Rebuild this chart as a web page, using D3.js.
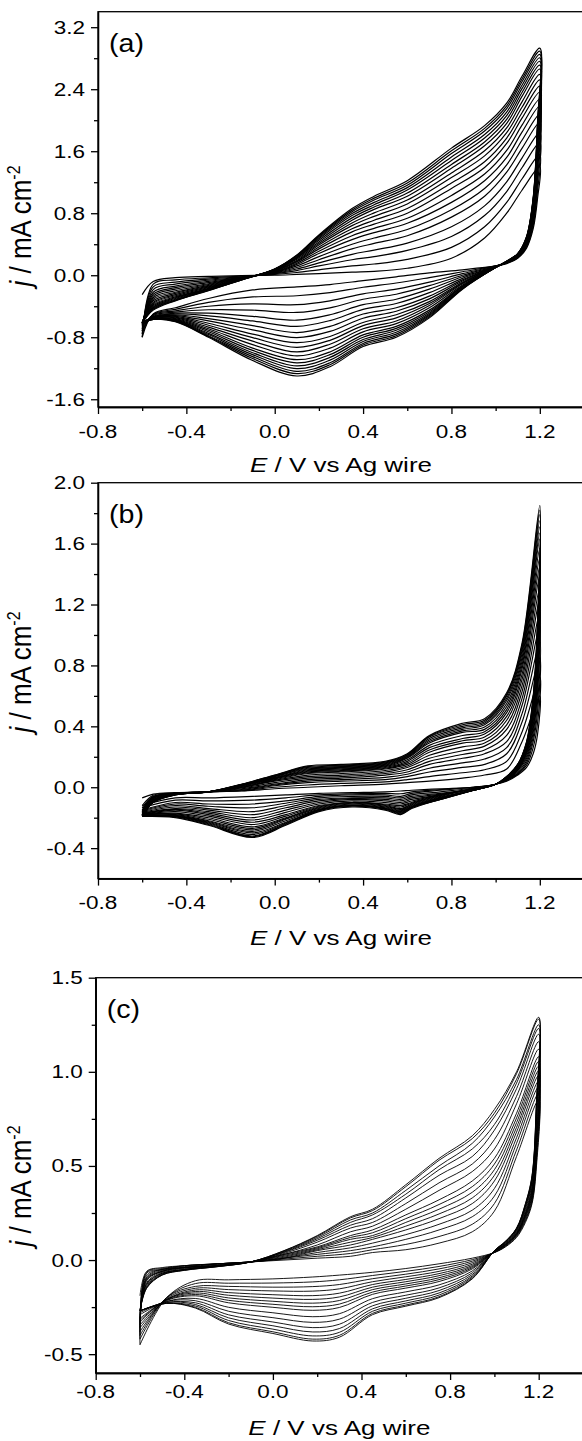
<!DOCTYPE html>
<html>
<head>
<meta charset="utf-8">
<script src="https://cdn.jsdelivr.net/npm/d3@7"></script>
<style>
  body { margin: 0; background: #fff; }
  svg { display: block; background: #fff; }
  text { font-family: "Liberation Sans", Arial, sans-serif; fill: #000; }
</style>
</head>
<body>
<svg id="chart" width="582" height="1441"></svg>
<script>
// shared potential axis
var xDomain = [-0.8, 1.4];
var xTicks = [-0.8, -0.4, 0.0, 0.4, 0.8, 1.2];
var xMinorTicks = [-0.6, -0.2, 0.2, 0.6, 1.0];

// ---- panel (a): one row per cycle, anodic sweep then cathodic sweep
var aYTicks = [-1.6, -0.8, 0.0, 0.8, 1.6, 2.4, 3.2];
var aYMinor = [-1.2, -0.4, 0.4, 1.2, 2.0, 2.8];
var aAnodicE = [-0.6, -0.55, -0.45, -0.3, -0.15, 0.0, 0.1, 0.2, 0.35, 0.45, 0.6, 0.8, 0.95, 1.05, 1.12, 1.2];
var aAnodic = [
  [-0.25, -0.08, -0.03, -0.015, -0.005, 0.0, 0.01, 0.02, 0.04, 0.05, 0.09, 0.22, 0.48, 0.8, 1.1, 1.4],
  [-0.8, -0.115, -0.06, -0.033, -0.013, 0.01, 0.035, 0.07, 0.12, 0.145, 0.205, 0.36, 0.625, 0.94, 1.245, 1.555],
  [-0.76, -0.15, -0.09, -0.05, -0.02, 0.02, 0.06, 0.12, 0.2, 0.24, 0.32, 0.5, 0.77, 1.08, 1.39, 1.71],
  [-0.72, -0.185, -0.115, -0.065, -0.025, 0.025, 0.08, 0.16, 0.27, 0.325, 0.415, 0.625, 0.895, 1.205, 1.515, 1.84],
  [-0.69, -0.22, -0.14, -0.08, -0.03, 0.03, 0.1, 0.2, 0.34, 0.41, 0.51, 0.75, 1.02, 1.33, 1.64, 1.97],
  [-0.66, -0.245, -0.16, -0.095, -0.03, 0.035, 0.12, 0.24, 0.4, 0.48, 0.59, 0.845, 1.12, 1.425, 1.745, 2.075],
  [-0.645, -0.27, -0.18, -0.11, -0.03, 0.04, 0.14, 0.28, 0.46, 0.55, 0.67, 0.94, 1.22, 1.52, 1.85, 2.18],
  [-0.63, -0.29, -0.2, -0.12, -0.035, 0.045, 0.155, 0.31, 0.51, 0.605, 0.735, 1.03, 1.305, 1.61, 1.94, 2.27],
  [-0.625, -0.31, -0.22, -0.13, -0.04, 0.05, 0.17, 0.34, 0.56, 0.66, 0.8, 1.12, 1.39, 1.7, 2.03, 2.36],
  [-0.62, -0.33, -0.235, -0.14, -0.045, 0.055, 0.18, 0.365, 0.6, 0.71, 0.86, 1.19, 1.465, 1.77, 2.1, 2.44],
  [-0.615, -0.35, -0.25, -0.15, -0.05, 0.06, 0.19, 0.39, 0.64, 0.76, 0.92, 1.26, 1.54, 1.84, 2.17, 2.52],
  [-0.61, -0.365, -0.265, -0.16, -0.05, 0.065, 0.205, 0.41, 0.675, 0.805, 0.97, 1.32, 1.605, 1.9, 2.24, 2.59],
  [-0.61, -0.38, -0.28, -0.17, -0.05, 0.07, 0.22, 0.43, 0.71, 0.85, 1.02, 1.38, 1.67, 1.96, 2.31, 2.66],
  [-0.61, -0.395, -0.29, -0.175, -0.05, 0.07, 0.225, 0.45, 0.74, 0.88, 1.06, 1.43, 1.72, 2.01, 2.36, 2.71],
  [-0.61, -0.41, -0.3, -0.18, -0.05, 0.07, 0.23, 0.47, 0.77, 0.91, 1.1, 1.48, 1.77, 2.06, 2.41, 2.76],
  [-0.61, -0.42, -0.31, -0.185, -0.055, 0.075, 0.24, 0.485, 0.795, 0.94, 1.13, 1.525, 1.815, 2.105, 2.455, 2.805],
  [-0.615, -0.43, -0.32, -0.19, -0.06, 0.08, 0.25, 0.5, 0.82, 0.97, 1.16, 1.57, 1.86, 2.15, 2.5, 2.85],
  [-0.62, -0.44, -0.325, -0.195, -0.06, 0.08, 0.255, 0.51, 0.84, 0.995, 1.19, 1.605, 1.895, 2.185, 2.535, 2.89],
  [-0.62, -0.45, -0.33, -0.2, -0.06, 0.08, 0.26, 0.52, 0.86, 1.02, 1.22, 1.64, 1.93, 2.22, 2.57, 2.93]
];
var aCathodicE = [1.19, 1.17, 1.14, 1.1, 1.05, 1.0, 0.85, 0.7, 0.55, 0.4, 0.25, 0.1, -0.1, -0.3, -0.45, -0.55, -0.6];
var aCathodic = [
  [1.0, 0.6, 0.35, 0.22, 0.15, 0.12, 0.07, 0.03, -0.02, -0.07, -0.12, -0.15, -0.19, -0.3, -0.42, -0.5, -0.8],
  [1.1, 0.64, 0.365, 0.225, 0.155, 0.12, 0.045, -0.03, -0.1, -0.155, -0.225, -0.265, -0.28, -0.35, -0.44, -0.505, -0.76],
  [1.2, 0.68, 0.38, 0.23, 0.16, 0.12, 0.02, -0.09, -0.18, -0.24, -0.33, -0.38, -0.37, -0.4, -0.46, -0.51, -0.72],
  [1.285, 0.715, 0.395, 0.235, 0.16, 0.115, 0.0, -0.135, -0.245, -0.31, -0.42, -0.48, -0.45, -0.445, -0.475, -0.52, -0.69],
  [1.37, 0.75, 0.41, 0.24, 0.16, 0.11, -0.02, -0.18, -0.31, -0.38, -0.51, -0.58, -0.53, -0.49, -0.49, -0.53, -0.66],
  [1.44, 0.775, 0.42, 0.245, 0.165, 0.11, -0.04, -0.225, -0.365, -0.44, -0.585, -0.66, -0.59, -0.525, -0.5, -0.535, -0.645],
  [1.51, 0.8, 0.43, 0.25, 0.17, 0.11, -0.06, -0.27, -0.42, -0.5, -0.66, -0.74, -0.65, -0.56, -0.51, -0.54, -0.63],
  [1.57, 0.825, 0.435, 0.255, 0.17, 0.11, -0.075, -0.305, -0.465, -0.555, -0.725, -0.805, -0.705, -0.59, -0.52, -0.54, -0.625],
  [1.63, 0.85, 0.44, 0.26, 0.17, 0.11, -0.09, -0.34, -0.51, -0.61, -0.79, -0.87, -0.76, -0.62, -0.53, -0.54, -0.62],
  [1.68, 0.87, 0.45, 0.26, 0.17, 0.11, -0.1, -0.365, -0.55, -0.65, -0.84, -0.93, -0.805, -0.645, -0.54, -0.545, -0.615],
  [1.73, 0.89, 0.46, 0.26, 0.17, 0.11, -0.11, -0.39, -0.59, -0.69, -0.89, -0.99, -0.85, -0.67, -0.55, -0.55, -0.61],
  [1.775, 0.91, 0.465, 0.265, 0.17, 0.105, -0.125, -0.42, -0.625, -0.73, -0.94, -1.04, -0.895, -0.69, -0.56, -0.555, -0.61],
  [1.82, 0.93, 0.47, 0.27, 0.17, 0.1, -0.14, -0.45, -0.66, -0.77, -0.99, -1.09, -0.94, -0.71, -0.57, -0.56, -0.61],
  [1.855, 0.945, 0.475, 0.27, 0.175, 0.1, -0.145, -0.47, -0.685, -0.8, -1.025, -1.13, -0.97, -0.73, -0.575, -0.56, -0.61],
  [1.89, 0.96, 0.48, 0.27, 0.18, 0.1, -0.15, -0.49, -0.71, -0.83, -1.06, -1.17, -1.0, -0.75, -0.58, -0.56, -0.61],
  [1.92, 0.97, 0.485, 0.275, 0.18, 0.1, -0.16, -0.505, -0.735, -0.855, -1.095, -1.205, -1.025, -0.765, -0.585, -0.565, -0.615],
  [1.95, 0.98, 0.49, 0.28, 0.18, 0.1, -0.17, -0.52, -0.76, -0.88, -1.13, -1.24, -1.05, -0.78, -0.59, -0.57, -0.62],
  [1.975, 0.99, 0.495, 0.28, 0.18, 0.1, -0.175, -0.535, -0.78, -0.9, -1.155, -1.27, -1.075, -0.79, -0.595, -0.57, -0.62],
  [2.0, 1.0, 0.5, 0.28, 0.18, 0.1, -0.18, -0.55, -0.8, -0.92, -1.18, -1.3, -1.1, -0.8, -0.6, -0.57, -0.62]
];

// ---- panel (b)
var bYTicks = [-0.4, 0.0, 0.4, 0.8, 1.2, 1.6, 2.0];
var bYMinor = [-0.2, 0.2, 0.6, 1.0, 1.4, 1.8];
var bAnodicE = [-0.6, -0.55, -0.45, -0.3, -0.15, 0.0, 0.15, 0.3, 0.5, 0.6, 0.7, 0.85, 0.95, 1.05, 1.12, 1.2];
var bAnodic = [
  [-0.07, -0.045, -0.035, -0.03, -0.025, -0.01, 0.0, 0.01, 0.02, 0.03, 0.04, 0.06, 0.08, 0.12, 0.3, 0.6],
  [-0.12, -0.053, -0.038, -0.03, -0.023, 0.0, 0.015, 0.025, 0.035, 0.05, 0.07, 0.095, 0.115, 0.17, 0.365, 0.725],
  [-0.135, -0.06, -0.04, -0.03, -0.02, 0.01, 0.03, 0.04, 0.05, 0.07, 0.1, 0.13, 0.15, 0.22, 0.43, 0.85],
  [-0.15, -0.063, -0.04, -0.03, -0.015, 0.015, 0.04, 0.05, 0.065, 0.085, 0.125, 0.16, 0.185, 0.26, 0.485, 0.955],
  [-0.155, -0.065, -0.04, -0.03, -0.01, 0.02, 0.05, 0.06, 0.08, 0.1, 0.15, 0.19, 0.22, 0.3, 0.54, 1.06],
  [-0.16, -0.068, -0.04, -0.03, -0.005, 0.03, 0.06, 0.07, 0.09, 0.115, 0.17, 0.215, 0.245, 0.34, 0.585, 1.15],
  [-0.165, -0.07, -0.04, -0.03, 0.0, 0.04, 0.07, 0.08, 0.1, 0.13, 0.19, 0.24, 0.27, 0.38, 0.63, 1.24],
  [-0.17, -0.075, -0.043, -0.03, 0.0, 0.045, 0.08, 0.09, 0.11, 0.14, 0.21, 0.265, 0.29, 0.41, 0.67, 1.315],
  [-0.175, -0.08, -0.045, -0.03, 0.0, 0.05, 0.09, 0.1, 0.12, 0.15, 0.23, 0.29, 0.31, 0.44, 0.71, 1.39],
  [-0.18, -0.083, -0.046, -0.03, 0.005, 0.055, 0.095, 0.105, 0.125, 0.16, 0.245, 0.305, 0.33, 0.465, 0.745, 1.45],
  [-0.18, -0.085, -0.046, -0.03, 0.01, 0.06, 0.1, 0.11, 0.13, 0.17, 0.26, 0.32, 0.35, 0.49, 0.78, 1.51],
  [-0.18, -0.088, -0.047, -0.03, 0.01, 0.06, 0.105, 0.115, 0.135, 0.18, 0.275, 0.34, 0.365, 0.51, 0.805, 1.57],
  [-0.18, -0.09, -0.047, -0.03, 0.01, 0.06, 0.11, 0.12, 0.14, 0.19, 0.29, 0.36, 0.38, 0.53, 0.83, 1.63],
  [-0.18, -0.092, -0.048, -0.03, 0.013, 0.065, 0.115, 0.125, 0.145, 0.195, 0.3, 0.37, 0.395, 0.55, 0.855, 1.67],
  [-0.185, -0.094, -0.048, -0.03, 0.015, 0.07, 0.12, 0.13, 0.15, 0.2, 0.31, 0.38, 0.41, 0.57, 0.88, 1.71],
  [-0.19, -0.096, -0.049, -0.03, 0.017, 0.073, 0.125, 0.135, 0.155, 0.205, 0.32, 0.39, 0.42, 0.585, 0.9, 1.75],
  [-0.19, -0.097, -0.049, -0.03, 0.018, 0.075, 0.13, 0.14, 0.16, 0.21, 0.33, 0.4, 0.43, 0.6, 0.92, 1.79],
  [-0.19, -0.099, -0.05, -0.03, 0.019, 0.078, 0.135, 0.145, 0.165, 0.215, 0.335, 0.41, 0.44, 0.61, 0.935, 1.82],
  [-0.19, -0.1, -0.05, -0.03, 0.02, 0.08, 0.14, 0.15, 0.17, 0.22, 0.34, 0.42, 0.45, 0.62, 0.95, 1.85]
];
var bCathodicE = [1.19, 1.17, 1.14, 1.1, 1.05, 1.0, 0.9, 0.75, 0.62, 0.57, 0.5, 0.35, 0.2, 0.05, -0.1, -0.3, -0.45, -0.6];
var bCathodic = [
  [0.35, 0.22, 0.13, 0.08, 0.04, 0.02, 0.0, -0.01, -0.02, -0.025, -0.03, -0.035, -0.04, -0.05, -0.06, -0.07, -0.07, -0.12],
  [0.425, 0.26, 0.145, 0.085, 0.045, 0.02, 0.0, -0.015, -0.03, -0.043, -0.04, -0.043, -0.05, -0.07, -0.085, -0.09, -0.085, -0.135],
  [0.5, 0.3, 0.16, 0.09, 0.05, 0.02, 0.0, -0.02, -0.04, -0.06, -0.05, -0.05, -0.06, -0.09, -0.11, -0.11, -0.1, -0.15],
  [0.565, 0.33, 0.175, 0.1, 0.05, 0.02, -0.005, -0.03, -0.05, -0.07, -0.06, -0.06, -0.07, -0.105, -0.135, -0.125, -0.11, -0.155],
  [0.63, 0.36, 0.19, 0.11, 0.05, 0.02, -0.01, -0.04, -0.06, -0.08, -0.07, -0.07, -0.08, -0.12, -0.16, -0.14, -0.12, -0.16],
  [0.68, 0.385, 0.205, 0.115, 0.055, 0.02, -0.01, -0.045, -0.07, -0.09, -0.08, -0.075, -0.09, -0.135, -0.18, -0.15, -0.13, -0.165],
  [0.73, 0.41, 0.22, 0.12, 0.06, 0.02, -0.01, -0.05, -0.08, -0.1, -0.09, -0.08, -0.1, -0.15, -0.2, -0.16, -0.14, -0.17],
  [0.775, 0.435, 0.23, 0.12, 0.06, 0.02, -0.01, -0.05, -0.09, -0.11, -0.1, -0.09, -0.11, -0.165, -0.215, -0.17, -0.145, -0.175],
  [0.82, 0.46, 0.24, 0.12, 0.06, 0.02, -0.01, -0.05, -0.1, -0.12, -0.11, -0.1, -0.12, -0.18, -0.23, -0.18, -0.15, -0.18],
  [0.86, 0.48, 0.245, 0.125, 0.06, 0.02, -0.01, -0.055, -0.105, -0.13, -0.115, -0.1, -0.125, -0.19, -0.245, -0.19, -0.16, -0.18],
  [0.9, 0.5, 0.25, 0.13, 0.06, 0.02, -0.01, -0.06, -0.11, -0.14, -0.12, -0.1, -0.13, -0.2, -0.26, -0.2, -0.17, -0.18],
  [0.935, 0.515, 0.26, 0.135, 0.06, 0.02, -0.015, -0.065, -0.115, -0.145, -0.125, -0.105, -0.135, -0.205, -0.27, -0.21, -0.175, -0.18],
  [0.97, 0.53, 0.27, 0.14, 0.06, 0.02, -0.02, -0.07, -0.12, -0.15, -0.13, -0.11, -0.14, -0.21, -0.28, -0.22, -0.18, -0.18],
  [0.995, 0.545, 0.275, 0.14, 0.065, 0.02, -0.02, -0.07, -0.125, -0.155, -0.135, -0.115, -0.145, -0.22, -0.29, -0.225, -0.185, -0.185],
  [1.02, 0.56, 0.28, 0.14, 0.07, 0.02, -0.02, -0.07, -0.13, -0.16, -0.14, -0.12, -0.15, -0.23, -0.3, -0.23, -0.19, -0.19],
  [1.04, 0.57, 0.285, 0.145, 0.07, 0.02, -0.02, -0.075, -0.13, -0.165, -0.14, -0.12, -0.15, -0.235, -0.31, -0.235, -0.19, -0.19],
  [1.06, 0.58, 0.29, 0.15, 0.07, 0.02, -0.02, -0.08, -0.13, -0.17, -0.14, -0.12, -0.15, -0.24, -0.32, -0.24, -0.19, -0.19],
  [1.08, 0.59, 0.295, 0.15, 0.07, 0.02, -0.02, -0.08, -0.135, -0.175, -0.145, -0.125, -0.155, -0.245, -0.325, -0.245, -0.195, -0.19],
  [1.1, 0.6, 0.3, 0.15, 0.07, 0.02, -0.02, -0.08, -0.14, -0.18, -0.15, -0.13, -0.16, -0.25, -0.33, -0.25, -0.2, -0.19]
];

// ---- panel (c)
var cYTicks = [-0.5, 0.0, 0.5, 1.0, 1.5];
var cYMinor = [-0.25, 0.25, 0.75, 1.25];
var cAnodicE = [-0.6, -0.57, -0.5, -0.4, -0.25, -0.1, 0.05, 0.2, 0.35, 0.45, 0.6, 0.75, 0.9, 1.0, 1.1, 1.2];
var cAnodic = [
  [-0.19, -0.06, -0.04, -0.03, -0.02, -0.01, 0.0, 0.01, 0.02, 0.04, 0.055, 0.09, 0.15, 0.26, 0.55, 0.85],
  [-0.45, -0.065, -0.045, -0.03, -0.02, -0.01, 0.005, 0.02, 0.035, 0.055, 0.083, 0.125, 0.19, 0.3, 0.585, 0.885],
  [-0.42, -0.07, -0.05, -0.03, -0.02, -0.01, 0.01, 0.03, 0.05, 0.07, 0.11, 0.16, 0.23, 0.34, 0.62, 0.92],
  [-0.4, -0.08, -0.05, -0.035, -0.02, -0.01, 0.01, 0.04, 0.065, 0.09, 0.135, 0.19, 0.265, 0.38, 0.65, 0.95],
  [-0.38, -0.09, -0.05, -0.04, -0.02, -0.01, 0.01, 0.05, 0.08, 0.11, 0.16, 0.22, 0.3, 0.42, 0.68, 0.98],
  [-0.36, -0.095, -0.055, -0.04, -0.025, -0.01, 0.015, 0.055, 0.095, 0.12, 0.18, 0.245, 0.33, 0.45, 0.705, 1.005],
  [-0.345, -0.1, -0.06, -0.04, -0.03, -0.01, 0.02, 0.06, 0.11, 0.13, 0.2, 0.27, 0.36, 0.48, 0.73, 1.03],
  [-0.33, -0.105, -0.06, -0.04, -0.03, -0.01, 0.025, 0.065, 0.12, 0.145, 0.22, 0.295, 0.39, 0.51, 0.755, 1.055],
  [-0.32, -0.11, -0.06, -0.04, -0.03, -0.01, 0.03, 0.07, 0.13, 0.16, 0.24, 0.32, 0.42, 0.54, 0.78, 1.08],
  [-0.31, -0.12, -0.065, -0.045, -0.03, -0.01, 0.03, 0.08, 0.15, 0.18, 0.27, 0.37, 0.47, 0.59, 0.83, 1.12],
  [-0.29, -0.125, -0.07, -0.05, -0.03, -0.01, 0.035, 0.095, 0.17, 0.2, 0.3, 0.41, 0.51, 0.64, 0.87, 1.16],
  [-0.28, -0.13, -0.07, -0.05, -0.03, -0.01, 0.04, 0.105, 0.185, 0.22, 0.33, 0.45, 0.55, 0.69, 0.91, 1.2],
  [-0.27, -0.137, -0.074, -0.05, -0.033, -0.01, 0.043, 0.113, 0.2, 0.24, 0.35, 0.48, 0.59, 0.72, 0.94, 1.23],
  [-0.27, -0.143, -0.077, -0.053, -0.034, -0.01, 0.046, 0.12, 0.213, 0.25, 0.37, 0.5, 0.62, 0.76, 0.96, 1.25],
  [-0.27, -0.147, -0.079, -0.054, -0.035, -0.01, 0.049, 0.126, 0.224, 0.263, 0.39, 0.53, 0.645, 0.78, 0.99, 1.28],
  [-0.27, -0.15, -0.08, -0.055, -0.035, -0.01, 0.05, 0.13, 0.23, 0.27, 0.4, 0.54, 0.66, 0.8, 1.0, 1.29]
];
var cCathodicE = [1.19, 1.17, 1.14, 1.1, 1.05, 1.0, 0.9, 0.75, 0.6, 0.45, 0.3, 0.18, 0.0, -0.2, -0.35, -0.48, -0.6];
var cCathodic = [
  [0.5, 0.3, 0.2, 0.12, 0.07, 0.04, 0.01, -0.02, -0.045, -0.065, -0.08, -0.09, -0.1, -0.105, -0.11, -0.2, -0.45],
  [0.525, 0.31, 0.208, 0.125, 0.073, 0.04, 0.002, -0.034, -0.06, -0.082, -0.105, -0.116, -0.122, -0.123, -0.125, -0.2, -0.42],
  [0.55, 0.32, 0.215, 0.13, 0.075, 0.04, -0.006, -0.047, -0.075, -0.099, -0.13, -0.141, -0.144, -0.14, -0.14, -0.2, -0.4],
  [0.575, 0.33, 0.223, 0.133, 0.078, 0.042, -0.014, -0.06, -0.089, -0.115, -0.153, -0.165, -0.164, -0.157, -0.15, -0.205, -0.38],
  [0.6, 0.34, 0.23, 0.135, 0.08, 0.043, -0.022, -0.072, -0.103, -0.13, -0.176, -0.189, -0.184, -0.173, -0.159, -0.21, -0.36],
  [0.62, 0.35, 0.235, 0.138, 0.081, 0.044, -0.029, -0.083, -0.115, -0.144, -0.196, -0.209, -0.202, -0.187, -0.167, -0.21, -0.345],
  [0.64, 0.36, 0.24, 0.14, 0.082, 0.044, -0.035, -0.094, -0.127, -0.157, -0.215, -0.229, -0.219, -0.201, -0.175, -0.21, -0.33],
  [0.66, 0.37, 0.245, 0.143, 0.084, 0.045, -0.041, -0.104, -0.138, -0.17, -0.234, -0.248, -0.235, -0.214, -0.183, -0.213, -0.32],
  [0.68, 0.38, 0.25, 0.146, 0.086, 0.045, -0.047, -0.114, -0.149, -0.182, -0.252, -0.267, -0.251, -0.227, -0.19, -0.215, -0.31],
  [0.72, 0.39, 0.26, 0.151, 0.089, 0.046, -0.058, -0.132, -0.169, -0.205, -0.285, -0.301, -0.28, -0.251, -0.204, -0.22, -0.29],
  [0.75, 0.41, 0.27, 0.155, 0.091, 0.047, -0.068, -0.148, -0.187, -0.225, -0.314, -0.331, -0.306, -0.272, -0.216, -0.22, -0.28],
  [0.78, 0.42, 0.28, 0.16, 0.094, 0.048, -0.077, -0.162, -0.203, -0.243, -0.341, -0.359, -0.329, -0.291, -0.227, -0.225, -0.27],
  [0.8, 0.43, 0.286, 0.163, 0.096, 0.049, -0.085, -0.175, -0.217, -0.259, -0.364, -0.382, -0.349, -0.307, -0.236, -0.225, -0.27],
  [0.82, 0.44, 0.292, 0.166, 0.098, 0.049, -0.091, -0.186, -0.229, -0.272, -0.384, -0.403, -0.367, -0.321, -0.244, -0.23, -0.27],
  [0.84, 0.445, 0.297, 0.169, 0.099, 0.05, -0.097, -0.195, -0.239, -0.283, -0.4, -0.42, -0.381, -0.333, -0.251, -0.23, -0.27],
  [0.85, 0.45, 0.3, 0.17, 0.1, 0.05, -0.1, -0.2, -0.245, -0.29, -0.41, -0.43, -0.39, -0.34, -0.255, -0.23, -0.27]
];

var SX = 1.25; // the picture's glyphs are wider than they are tall

var panels = [
  { name: "a", letter: "(a)", box: [98, 584, 11.7, 407], yDomain: [-1.7, 3.4],
    yTicks: aYTicks, yMinor: aYMinor, anE: aAnodicE, an: aAnodic, caE: aCathodicE, ca: aCathodic,
    labelY: 226, tickDy: 31, titleDy: 65, lw: 1.2 },
  { name: "b", letter: "(b)", box: [98, 584, 482.7, 878.6], yDomain: [-0.6, 2.0],
    yTicks: bYTicks, yMinor: bYMinor, anE: bAnodicE, an: bAnodic, caE: bCathodicE, ca: bCathodic,
    labelY: 672, tickDy: 30, titleDy: 66, lw: 1.15 },
  { name: "c", letter: "(c)", box: [95.7, 583, 977.7, 1373], yDomain: [-0.6, 1.5],
    yTicks: cYTicks, yMinor: cYMinor, anE: cAnodicE, an: cAnodic, caE: cCathodicE, ca: cCathodic,
    labelY: 1186, tickDy: 25, titleDy: 62, lw: 0.9 }
];

var svg = d3.select("#chart");
svg.append("rect").attr("width", 582).attr("height", 1441).attr("fill", "#fff");

panels.forEach(drawPanel);

function stretched(g, x, y, str, size, anchor) {
  return g.append("text")
    .attr("transform", "translate(" + x + "," + y + ") scale(" + SX + ",1)")
    .attr("text-anchor", anchor)
    .style("font-size", size + "px")
    .text(str);
}

function drawPanel(p) {
  var l = p.box[0], r = p.box[1], t = p.box[2], b = p.box[3];
  var x = d3.scaleLinear().domain(xDomain).range([l, r]);
  var y = d3.scaleLinear().domain(p.yDomain).range([b, t]);
  var g = svg.append("g");

  svg.append("clipPath").attr("id", "clip-" + p.name)
    .append("rect").attr("x", l).attr("y", t).attr("width", r - l).attr("height", b - t);

  var line = d3.line()
    .x(function(d) { return x(d[0]); })
    .y(function(d) { return y(d[1]); })
    .curve(d3.curveCatmullRom.alpha(0.5));

  var curves = g.append("g").attr("clip-path", "url(#clip-" + p.name + ")");
  p.an.forEach(function(jAn, k) {
    var pts = p.anE.map(function(e, i) { return [e, jAn[i]]; })
      .concat(p.caE.map(function(e, i) { return [e, p.ca[k][i]]; }));
    curves.append("path")
      .attr("d", line(pts))
      .attr("fill", "none")
      .attr("stroke", "#000")
      .attr("stroke-width", p.lw);
  });

  // frame
  g.append("rect")
    .attr("x", l).attr("y", t).attr("width", r - l).attr("height", b - t)
    .attr("fill", "none").attr("stroke", "#000").attr("stroke-width", 1.3);

  // ticks
  var xAxis = g.append("g").attr("transform", "translate(0," + b + ")")
    .call(d3.axisBottom(x).tickValues(xTicks).tickSize(7).tickSizeOuter(0).tickFormat(""));
  var xMinor = g.append("g").attr("transform", "translate(0," + b + ")")
    .call(d3.axisBottom(x).tickValues(xMinorTicks).tickSize(4).tickSizeOuter(0).tickFormat(""));
  var yAxis = g.append("g").attr("transform", "translate(" + l + ",0)")
    .call(d3.axisLeft(y).tickValues(p.yTicks).tickSize(7).tickSizeOuter(0).tickFormat(""));
  var yMinor = g.append("g").attr("transform", "translate(" + l + ",0)")
    .call(d3.axisLeft(y).tickValues(p.yMinor).tickSize(4).tickSizeOuter(0).tickFormat(""));
  [xAxis, xMinor, yAxis, yMinor].forEach(function(a) {
    a.selectAll("line").attr("stroke", "#000").attr("stroke-width", 1.3);
    a.select(".domain").attr("stroke", "#000").attr("stroke-width", 1.3);
  });

  // tick labels
  xTicks.forEach(function(v) {
    stretched(g, x(v), b + p.tickDy, v.toFixed(1), 18, "middle");
  });
  p.yTicks.forEach(function(v) {
    stretched(g, l - 13, y(v) + 6.5, v.toFixed(1), 18, "end");
  });

  // axis titles
  var xt = g.append("text")
    .attr("transform", "translate(" + ((l + r) / 2) + "," + (b + p.titleDy) + ") scale(1.3,1)")
    .attr("text-anchor", "middle")
    .style("font-size", "20px");
  xt.append("tspan").style("font-style", "italic").text("E");
  xt.append("tspan").text(" / V vs Ag wire");

  var yt = g.append("text")
    .attr("transform", "translate(31," + p.labelY + ") scale(1.1,1) rotate(-90)")
    .attr("text-anchor", "middle")
    .style("font-size", "26px");
  yt.append("tspan").style("font-style", "italic").text("j");
  yt.append("tspan").text(" / mA cm");
  yt.append("tspan").attr("dy", -10).style("font-size", "16px").text("-2");

  // panel letter
  g.append("text")
    .attr("transform", "translate(" + (l + 11) + "," + (t + 40) + ") scale(1.1,1)")
    .style("font-size", "26px")
    .text(p.letter);
}
</script>
</body>
</html>
